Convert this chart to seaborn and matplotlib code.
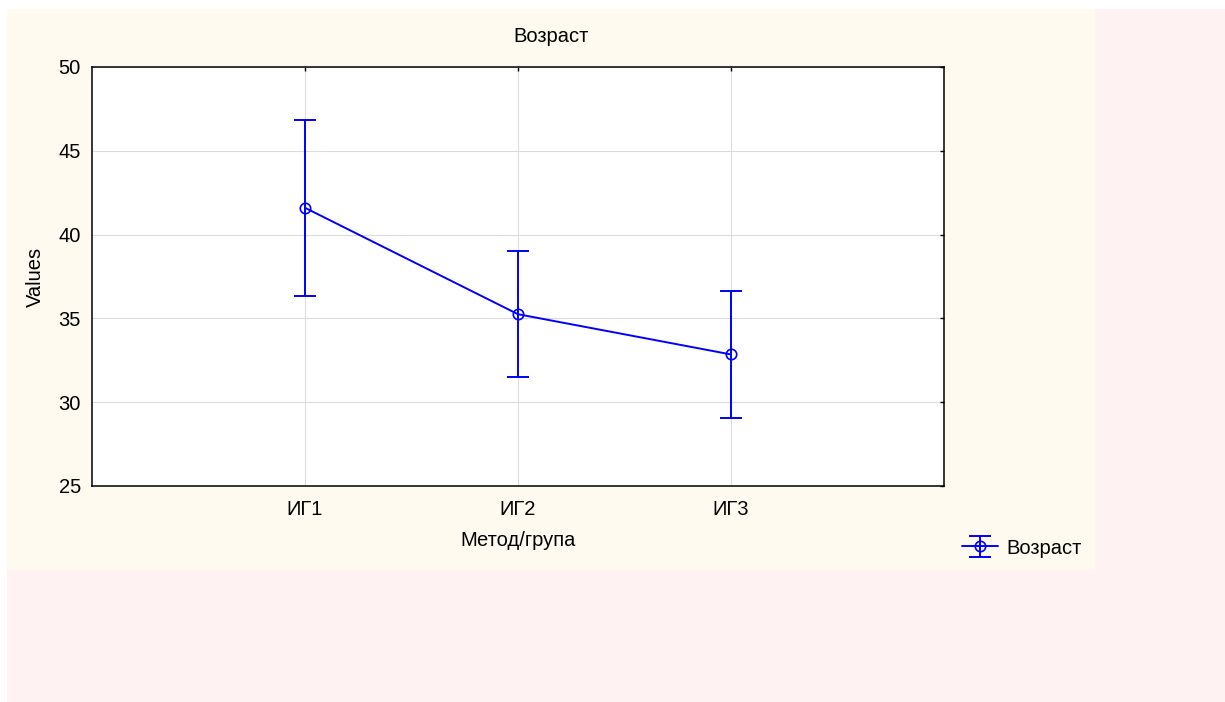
import matplotlib
matplotlib.use("Agg")
import matplotlib.pyplot as plt
from matplotlib.patches import Rectangle
import seaborn as sns
import pandas as pd

# Group means and half-width of the error bars
groups = ["ИГ1", "ИГ2", "ИГ3"]
means = [41.6, 35.25, 32.85]
errors = [5.25, 3.75, 3.8]
y_ticks = [25, 30, 35, 40, 45, 50]

series_name = "Возраст"
x_title = "Метод/група"
y_title = "Values"

sns.set_style("white")
plt.rcParams["font.family"] = ["Liberation Sans", "DejaVu Sans"]
plt.rcParams["font.size"] = 14
plt.rcParams["text.color"] = "black"

W, H = 1225, 702
fig = plt.figure(figsize=(W / 100, H / 100), dpi=100)
fig.patch.set_facecolor("white")

# Background panels
fig.patches.append(Rectangle((7 / W, 0), (W - 7) / W, (H - 9) / H,
                             transform=fig.transFigure, facecolor="#FFF2F2",
                             edgecolor="none", zorder=-3))
fig.patches.append(Rectangle((7 / W, 1 - 570 / H), 1088 / W, 561 / H,
                             transform=fig.transFigure, facecolor="#FEFAF0",
                             edgecolor="none", zorder=-2))

ax = fig.add_axes([92 / W, 1 - 486 / H, 852 / W, 419 / H])
ax.set_facecolor("white")

df = pd.DataFrame({"group": groups, "mean": means, "err": errors})
blue = "#0000FF"

sns.lineplot(data=df, x="group", y="mean", ax=ax, color=blue, lw=1.4,
             marker="o", markersize=7.5, markerfacecolor="none",
             markeredgecolor=blue, markeredgewidth=1.2, sort=False,
             legend=False, zorder=4)
line_handle = ax.lines[-1]

eb = ax.errorbar(df["group"], df["mean"], yerr=df["err"], fmt="none",
                 ecolor=blue, elinewidth=1.4, capsize=8, capthick=1.4, zorder=3)

ax.set_xlim(-1, 3)
ax.set_ylim(25, 50)
ax.set_yticks(y_ticks)
ax.grid(True, color="#DCDCDC", lw=0.8)
ax.set_axisbelow(True)

for s in ax.spines.values():
    s.set_color("black")
    s.set_linewidth(1.1)
    s.set_visible(True)

ax.tick_params(axis="both", direction="in", length=3, width=1, color="black",
               top=True, right=True, labelsize=14.5, labelcolor="black")
ax.tick_params(axis="y", pad=8)
ax.tick_params(axis="x", pad=10)

ax.set_xlabel(x_title, fontsize=14.5, color="black")
ax.set_ylabel(y_title, fontsize=14.5, color="black")
ax.xaxis.set_label_coords(0.5, -(531 - 486) / 419)
ax.yaxis.set_label_coords(-(92 - 45) / 852, 0.5)

fig.text(551 / W, 1 - 37 / H, series_name, ha="center", va="center",
         fontsize=14.5, color="black")

ax.legend([(line_handle, eb)], [series_name], loc="center left",
          bbox_to_anchor=(944 / W, 1 - 548 / H), bbox_transform=fig.transFigure,
          frameon=False, fontsize=14.5, handlelength=1.8, handletextpad=0.4,
          labelcolor="black")

fig.savefig("out.png", dpi=100)
